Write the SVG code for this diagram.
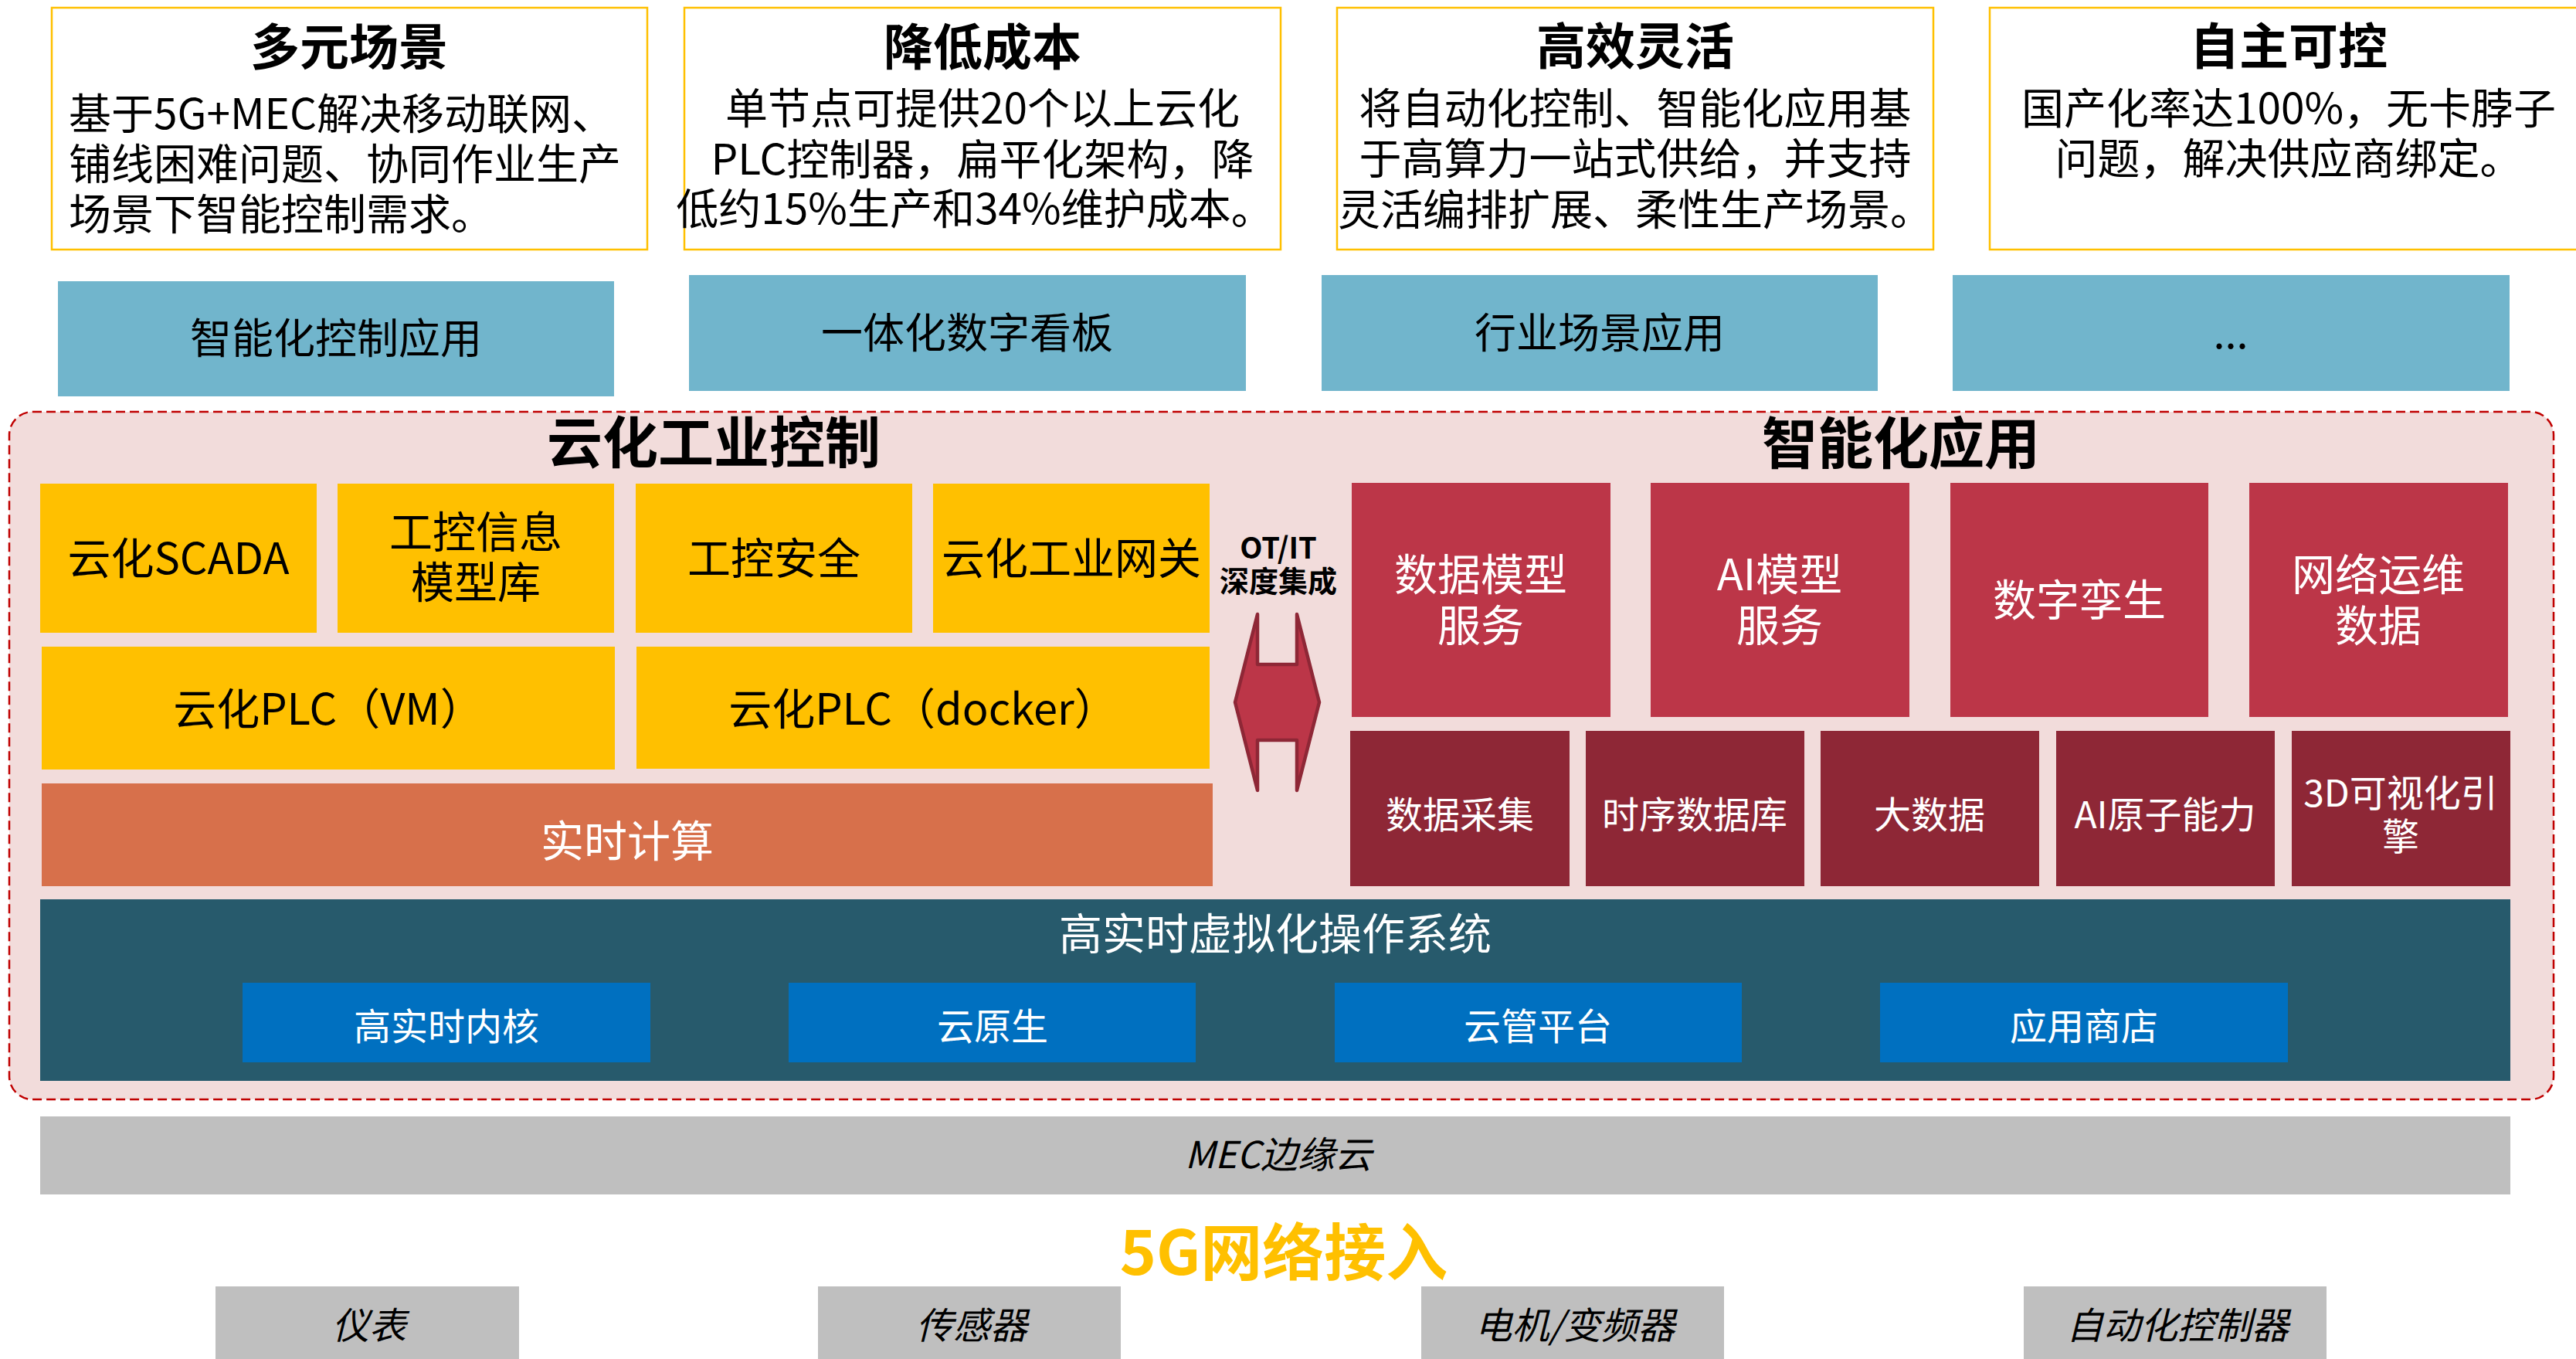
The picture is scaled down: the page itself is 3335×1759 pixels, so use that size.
<svg xmlns="http://www.w3.org/2000/svg" width="3335" height="1759" viewBox="0 0 3335 1759">
<style>
text{font-family:"Noto Sans CJK SC","Noto Sans",sans-serif;dominant-baseline:central;text-anchor:middle}
.card{fill:#FFFFFF;stroke:#FFC000;stroke-width:2.5}
.ttl{font-size:64px;font-weight:700;fill:#000}
.body{font-size:55px;fill:#000}
.app{fill:#71B5CC}
.appt{font-size:54px;fill:#000}
.sec{font-size:72px;font-weight:700;fill:#000}
.yel{fill:#FFC000}
.yt{font-size:56px;fill:#000}
.ora{fill:#D7704B}
.wt{fill:#FFFFFF}
.red{fill:#BC3648}
.dred{fill:#8E2736}
.rt{font-size:56px;fill:#FFFFFF}
.rt2{font-size:48px;fill:#FFFFFF}
.teal{fill:#275A6C}
.blue{fill:#0070C0}
.gray{fill:#BFBFBF}
.it{font-size:48px;font-style:italic;fill:#000}
</style>

<g id="card-multi">
<rect class="card" x="67" y="10" width="771" height="313"/>
<text class="ttl" x="452" y="56">多元场景</text>
<text class="body" style="text-anchor:start"><tspan x="89" y="143">基于5G+MEC解决移动联网、</tspan><tspan x="89" y="208">铺线困难问题、协同作业生产</tspan><tspan x="89" y="273">场景下智能控制需求。</tspan></text>
</g>
<g id="card-cost">
<rect class="card" x="886" y="10" width="772" height="313"/>
<text class="ttl" x="1272" y="56">降低成本</text>
<text class="body"><tspan x="1272" y="136">单节点可提供20个以上云化</tspan><tspan x="1272" y="202">PLC控制器，扁平化架构，降</tspan><tspan x="1262" y="266">低约15%生产和34%维护成本。</tspan></text>
</g>
<g id="card-flex">
<rect class="card" x="1731" y="10" width="772" height="313"/>
<text class="ttl" x="2117" y="55">高效灵活</text>
<text class="body"><tspan x="2117" y="136">将自动化控制、智能化应用基</tspan><tspan x="2117" y="201">于高算力一站式供给，并支持</tspan><tspan x="2117" y="267">灵活编排扩展、柔性生产场景。</tspan></text>
</g>
<g id="card-auto">
<rect class="card" x="2576" y="10" width="780" height="313"/>
<text class="ttl" x="2963" y="55">自主可控</text>
<text class="body"><tspan x="2963" y="136">国产化率达100%，无卡脖子</tspan><tspan x="2963" y="201">问题，解决供应商绑定。</tspan></text>
</g>

<g id="app-control"><rect class="app" x="75" y="364" width="720" height="149"/><text class="appt" x="435" y="434">智能化控制应用</text></g>
<g id="app-board"><rect class="app" x="892" y="356" width="721" height="150"/><text class="appt" x="1252" y="427">一体化数字看板</text></g>
<g id="app-industry"><rect class="app" x="1711" y="356" width="720" height="150"/><text class="appt" x="2071" y="427">行业场景应用</text></g>
<g id="app-more"><rect class="app" x="2528" y="356" width="721" height="150"/><text class="appt" x="2888" y="427">...</text></g>

<g id="platform">
<rect x="12" y="533" width="3294" height="890" rx="30" ry="30" fill="#F2DCDB" stroke="#C00000" stroke-width="2.5" stroke-dasharray="12 6"/>
<text class="sec" x="924" y="567">云化工业控制</text>
<text class="sec" x="2461" y="568">智能化应用</text>
</g>

<g id="n-scada"><rect class="yel" x="52" y="626" width="358" height="193"/><text class="yt" x="231" y="718">云化SCADA</text></g>
<g id="n-infomodel"><rect class="yel" x="437" y="626" width="358" height="193"/><text class="yt"><tspan x="616" y="684">工控信息</tspan><tspan x="616" y="749">模型库</tspan></text></g>
<g id="n-security"><rect class="yel" x="823" y="626" width="358" height="193"/><text class="yt" x="1002" y="718">工控安全</text></g>
<g id="n-gateway"><rect class="yel" x="1208" y="626" width="358" height="193"/><text class="yt" x="1387" y="718">云化工业网关</text></g>
<g id="n-plc-vm"><rect class="yel" x="54" y="837" width="742" height="159"/><text class="yt" x="425" y="913">云化PLC（VM）</text></g>
<g id="n-plc-docker"><rect class="yel" x="824" y="837" width="742" height="158"/><text class="yt" x="1195" y="913">云化PLC（docker）</text></g>
<g id="n-realtime"><rect class="ora" x="54" y="1014" width="1516" height="133"/><text class="yt wt" x="812" y="1084">实时计算</text></g>

<g id="n-otit">
<text style="font-size:38px;font-weight:700;fill:#000"><tspan x="1655" y="706">OT/IT</tspan><tspan x="1655" y="749">深度集成</tspan></text>
</g>

<g id="n-datamodel"><rect class="red" x="1750" y="625" width="335" height="303"/><text class="rt"><tspan x="1917" y="739">数据模型</tspan><tspan x="1917" y="805">服务</tspan></text></g>
<g id="n-aimodel"><rect class="red" x="2137" y="625" width="335" height="303"/><text class="rt"><tspan x="2304" y="739">AI模型</tspan><tspan x="2304" y="805">服务</tspan></text></g>
<g id="n-twin"><rect class="red" x="2525" y="625" width="334" height="303"/><text class="rt" x="2692" y="772">数字孪生</text></g>
<g id="n-netops"><rect class="red" x="2912" y="625" width="335" height="303"/><text class="rt"><tspan x="3079" y="739">网络运维</tspan><tspan x="3079" y="805">数据</tspan></text></g>

<g id="n-collect"><rect class="dred" x="1748" y="946" width="284" height="201"/><text class="rt2" x="1890" y="1051">数据采集</text></g>
<g id="n-tsdb"><rect class="dred" x="2053" y="946" width="283" height="201"/><text class="rt2" x="2194" y="1051">时序数据库</text></g>
<g id="n-bigdata"><rect class="dred" x="2357" y="946" width="283" height="201"/><text class="rt2" x="2498" y="1051">大数据</text></g>
<g id="n-aiatom"><rect class="dred" x="2662" y="946" width="283" height="201"/><text class="rt2" x="2803" y="1051">AI原子能力</text></g>
<g id="n-3d"><rect class="dred" x="2967" y="946" width="283" height="201"/><text class="rt2"><tspan x="3108" y="1023">3D可视化引</tspan><tspan x="3108" y="1079">擎</tspan></text></g>

<g id="n-os">
<rect class="teal" x="52" y="1164" width="3198" height="235"/>
<text class="yt wt" x="1651" y="1204">高实时虚拟化操作系统</text>
</g>
<g id="n-kernel"><rect class="blue" x="314" y="1272" width="528" height="103"/><text class="rt2" x="578" y="1325">高实时内核</text></g>
<g id="n-cloudnative"><rect class="blue" x="1021" y="1272" width="527" height="103"/><text class="rt2" x="1285" y="1325">云原生</text></g>
<g id="n-cloudmgmt"><rect class="blue" x="1728" y="1272" width="527" height="103"/><text class="rt2" x="1991" y="1325">云管平台</text></g>
<g id="n-appstore"><rect class="blue" x="2434" y="1272" width="528" height="103"/><text class="rt2" x="2698" y="1325">应用商店</text></g>

<g id="n-mec"><rect class="gray" x="52" y="1445" width="3198" height="101"/><text class="it" x="1655" y="1491">MEC边缘云</text></g>
<g id="n-5g"><text x="1662" y="1615" style="font-size:80px;font-weight:700;fill:#FFC000">5G网络接入</text></g>

<g id="n-meter"><rect class="gray" x="279" y="1665" width="393" height="100"/><text class="it" x="478" y="1712">仪表</text></g>
<g id="n-sensor"><rect class="gray" x="1059" y="1665" width="392" height="100"/><text class="it" x="1258" y="1712">传感器</text></g>
<g id="n-motor"><rect class="gray" x="1840" y="1665" width="392" height="100"/><text class="it" x="2039" y="1712">电机/变频器</text></g>
<g id="n-controller"><rect class="gray" x="2620" y="1665" width="392" height="100"/><text class="it" x="2819" y="1712">自动化控制器</text></g>

<g id="connectors">
<path d="M1628 795 L1628 860 L1679 860 L1679 795 L1708 909 L1679 1023 L1679 958 L1628 958 L1628 1023 L1599 909 Z" fill="#BC3648" stroke="#8E2736" stroke-width="4.5" stroke-linejoin="round"/>
</g>
</svg>
